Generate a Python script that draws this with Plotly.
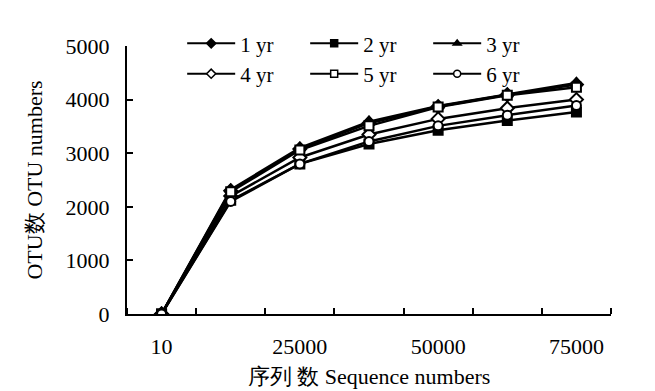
import plotly.graph_objects as go

categories = ["10", "12500", "25000", "37500", "50000", "62500", "75000"]
tick_labels = ["10", "25000", "50000", "75000"]
tick_positions = [0, 2, 4, 6]

yr1 = [0, 2300, 3080, 3560, 3870, 4090, 4280]
yr2 = [0, 2120, 2800, 3170, 3430, 3610, 3770]
yr3 = [0, 2320, 3100, 3590, 3880, 4100, 4310]
yr4 = [0, 2200, 2920, 3350, 3640, 3840, 4000]
yr5 = [0, 2280, 3060, 3510, 3860, 4080, 4230]
yr6 = [0, 2100, 2800, 3220, 3510, 3710, 3890]

series = [
    ("1 yr", yr1, "diamond", "black"),
    ("2 yr", yr2, "square", "black"),
    ("3 yr", yr3, "triangle-up", "black"),
    ("4 yr", yr4, "diamond", "white"),
    ("5 yr", yr5, "square", "white"),
    ("6 yr", yr6, "circle", "white"),
]

FONT = "Liberation Serif, Times New Roman, serif"
x_idx = list(range(len(categories)))

fig = go.Figure()
for name, vals, sym, fill in series:
    size = 9 if sym != "triangle-up" else 10
    if sym == "diamond":
        size = 10
    fig.add_trace(go.Scatter(
        x=x_idx, y=vals, name=name, mode="lines+markers", legendgroup=name,
        showlegend=False,
        line=dict(color="black", width=2.5),
        marker=dict(symbol=sym, size=size, color=fill,
                    line=dict(color="black", width=2)),
        customdata=categories,
    ))
# legend entries (smaller markers, as in the reference legend)
for name, vals, sym, fill in series:
    fig.add_trace(go.Scatter(
        x=[None], y=[None], name=name, mode="lines+markers", legendgroup=name,
        showlegend=True,
        line=dict(color="black", width=2),
        marker=dict(symbol=sym, size=7, color=fill, line=dict(color="black", width=1.5)),
    ))

fig.update_layout(
    width=655, height=391,
    margin=dict(l=127, r=44, t=46, b=77, autoexpand=False),
    paper_bgcolor="white", plot_bgcolor="white",
    font=dict(family=FONT, size=21, color="black"),
    showlegend=True,
    legend=dict(
        orientation="h", x=0.114, xanchor="left", y=1.085, yanchor="top",
        entrywidth=60, entrywidthmode="pixels",
        font=dict(family=FONT, size=21, color="black"),
        bgcolor="rgba(0,0,0,0)", tracegroupgap=0, itemwidth=48,
    ),
)

fig.update_xaxes(
    range=[-0.5, 6.5], tickmode="array", tickvals=tick_positions, ticktext=tick_labels,
    ticks="", showgrid=False, zeroline=False,
    showline=True, linecolor="black", linewidth=2,
    ticklabelstandoff=12, automargin=False,
    tickfont=dict(family=FONT, size=22),
    minor=dict(tick0=-0.5, dtick=1, ticks="inside", ticklen=6, tickwidth=2,
               tickcolor="black", showgrid=False),
    title=dict(text="序列 数 Sequence numbers", font=dict(family=FONT, size=22), standoff=10),
)
fig.update_yaxes(
    range=[0, 5000], dtick=1000, tickmode="linear",
    ticks="inside", ticklen=6, tickwidth=2, tickcolor="black",
    showgrid=False, zeroline=False,
    showline=True, linecolor="black", linewidth=2,
    ticklabelstandoff=11, automargin=False,
    tickfont=dict(family=FONT, size=22),
    title=dict(text="OTU数 OTU numbers", font=dict(family=FONT, size=22), standoff=17),
)

fig.write_html("out.html", config={"displayModeBar": False},
               post_script="document.body.style.margin='0';")
